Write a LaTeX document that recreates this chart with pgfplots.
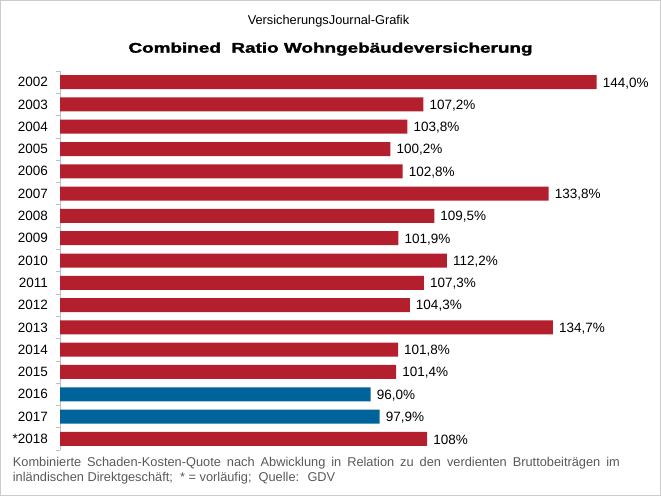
\documentclass[border=0pt]{standalone}
\usepackage{pgfplots}
\pgfplotsset{compat=1.18}
\usepackage{fontspec}
\setmainfont{Liberation Sans}
\newfontfamily\titlefont[FakeBold=1.6]{Liberation Sans Bold}

\definecolor{vjred}{HTML}{B41F2E}
\definecolor{vjblue}{HTML}{00639A}
\definecolor{notegray}{HTML}{595959}

\begin{document}
\begin{tikzpicture}[x=1pt,y=1pt]
\useasboundingbox (0,0) rectangle (661,496);
\draw[black!20, line width=0.6pt] (0.5,0.5) rectangle (660.5,495.5);

\node[anchor=base, inner sep=0pt, font=\fontsize{12.8}{14}\selectfont] at (328.5,471) {VersicherungsJournal-Grafik};
\node[anchor=base west, inner sep=0pt] at (128.3,443.3)
  {\resizebox{404pt}{\height}{\fontsize{14}{16}\selectfont\titlefont Combined\ \ Ratio Wohngebäudeversicherung}};

\begin{axis}[
  at={(60pt,46pt)}, anchor=south west,
  scale only axis, width=612pt, height=379pt,
  xmin=30, xmax=160,
  ymin=-0.5, ymax=16.5, y dir=reverse,
  axis x line=none, axis y line*=left,
  y axis line style={draw=black!25, line width=0.6pt, -},
  ytick={0,...,16},
  yticklabels={2002,2003,2004,2005,2006,2007,2008,2009,2010,2011,2012,2013,2014,2015,2016,2017,*2018},
  minor ytick={-0.5,0.5,...,16.5},
  tick align=outside, major tick length=0pt, minor tick length=4pt,
  minor tick style={draw=black!25, line width=0.6pt},
  yticklabel style={font=\fontsize{13.5}{14}\selectfont, inner sep=0pt, xshift=-12pt},
  xbar, bar width=14pt, bar shift=0pt,
  point meta=explicit symbolic,
  nodes near coords={\pgfplotspointmeta\%},
  nodes near coords style={font=\fontsize{13.5}{14}\selectfont, anchor=west, inner sep=0pt, xshift=6pt, yshift=-1pt, text=black},
]
\addplot[draw=none, fill=vjred] table[x=v, y=pos, meta=lab] {
v pos lab
144.0 0 144,0
107.2 1 107,2
103.8 2 103,8
100.2 3 100,2
102.8 4 102,8
133.8 5 133,8
109.5 6 109,5
101.9 7 101,9
112.2 8 112,2
107.3 9 107,3
104.3 10 104,3
134.7 11 134,7
101.8 12 101,8
101.4 13 101,4
108 16 108
};
\addplot[draw=none, fill=vjblue] table[x=v, y=pos, meta=lab] {
v pos lab
96.0 14 96,0
97.9 15 97,9
};
\end{axis}

\node[anchor=base west, inner sep=0pt, text=notegray, font=\fontsize{12.8}{14}\selectfont] at (12.7,29.5)
  {\makebox[607pt][s]{Kombinierte Schaden-Kosten-Quote nach Abwicklung in Relation zu den verdienten Bruttobeiträgen im}};
\node[anchor=base west, inner sep=0pt, text=notegray, font=\fontsize{12.8}{14}\selectfont] at (12.7,15)
  {inländischen Direktgeschäft;~ * = vorläufig;~ Quelle:~ GDV};
\end{tikzpicture}
\end{document}
